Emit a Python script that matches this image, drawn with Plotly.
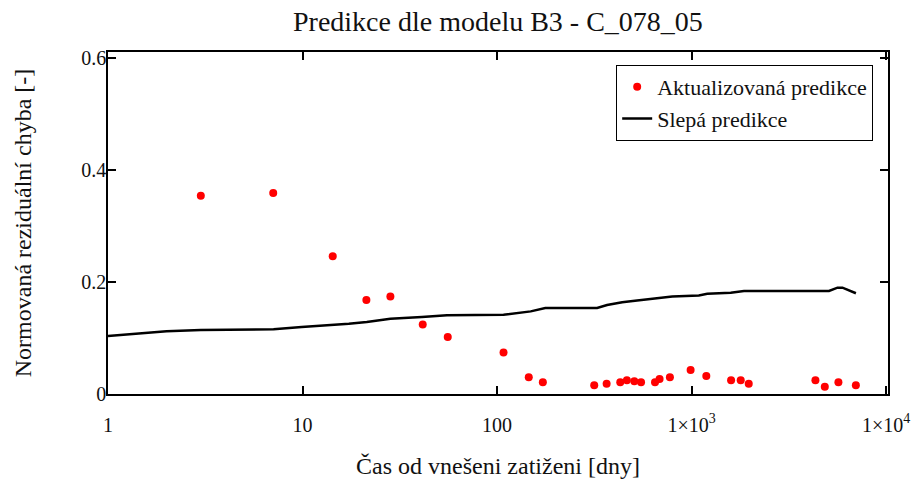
import plotly.graph_objects as go

# Measurement times [days] and updated-prediction normalized residual error
t_meas = [3.0, 7.07, 14.3, 21.3, 28.3, 41.5, 55.8, 108, 145.6, 172,
          316, 366, 430, 465, 508, 550, 649, 685, 774, 989,
          1191, 1597, 1790, 1968, 4334, 4842, 5689, 6995]
err_upd = [0.354, 0.359, 0.246, 0.168, 0.174, 0.124, 0.102, 0.074, 0.030, 0.021,
           0.0155, 0.0184, 0.021, 0.0244, 0.023, 0.021, 0.021, 0.027, 0.030, 0.043,
           0.032, 0.0244, 0.0244, 0.0184, 0.0244, 0.013, 0.021, 0.0155]

# Blind prediction curve
t_blind = [1, 1.27, 1.58, 2.0, 3.0, 7.1, 9.9, 14.2, 17.3, 21.4, 24.6, 28.3,
           41.1, 55.3, 108, 127, 149, 177, 327, 368, 440, 525, 680, 796,
           1090, 1205, 1590, 1860, 5090, 5630, 5970, 7000]
err_blind = [0.1036, 0.1065, 0.1095, 0.112, 0.1143, 0.1155, 0.1196, 0.1226, 0.1255,
             0.1286, 0.1316, 0.1345, 0.1375, 0.1405, 0.1416, 0.1446, 0.1476, 0.1536,
             0.1536, 0.159, 0.164, 0.167, 0.171, 0.174, 0.176, 0.179, 0.181, 0.184,
             0.184, 0.190, 0.190, 0.180]

x_tickvals = [1, 10, 100, 1000, 10000]
x_ticktext = ["1", "10", "100", "1×10<sup>3</sup>", "1×10<sup>4</sup>"]
y_tickvals = [0, 0.2, 0.4, 0.6]
y_ticktext = ["0", "0.2", "0.4", "0.6"]

SERIF = "Liberation Serif"
INK = "#111111"

fig = go.Figure()
fig.add_trace(go.Scatter(x=t_meas, y=err_upd, mode="markers",
                         marker=dict(color="#ff0000", size=8),
                         name="Aktualizovaná predikce"))
fig.add_trace(go.Scatter(x=t_blind, y=err_blind, mode="lines",
                         line=dict(color="black", width=2.5),
                         name="Slepá predikce"))

fig.update_layout(
    template="none",
    width=917, height=481,
    margin=dict(l=108, r=29, t=52, b=87, autoexpand=False),
    paper_bgcolor="white", plot_bgcolor="white",
    font=dict(family=SERIF, color=INK),
    title=dict(text="Predikce dle modelu B3 - C_078_05", x=0.543, xanchor="center",
               y=0.955, yanchor="middle", font=dict(size=28, family=SERIF, color=INK)),
    legend=dict(x=0.981, xanchor="right", y=0.962, yanchor="top",
                bordercolor="black", borderwidth=1, bgcolor="white",
                font=dict(size=22, family=SERIF, color=INK)),
    showlegend=True,
)
fig.update_xaxes(type="log", range=[0, 4.01], tickvals=x_tickvals, ticktext=x_ticktext,
                 ticks="inside", ticklen=8, tickwidth=1.5, tickcolor="black",
                 showline=True, linecolor="black", linewidth=1.5, mirror="ticks",
                 showgrid=False, zeroline=False, ticklabelstandoff=12, automargin=False,
                 tickfont=dict(size=20, family=SERIF, color=INK),
                 title=dict(text="Čas od vnešeni zatiženi [dny]", standoff=22,
                            font=dict(size=24, family=SERIF, color=INK)))
fig.update_yaxes(range=[0, 0.611], tickvals=y_tickvals, ticktext=y_ticktext,
                 ticks="inside", ticklen=8, tickwidth=1.5, tickcolor="black",
                 showline=True, linecolor="black", linewidth=1.5, mirror="ticks",
                 showgrid=False, zeroline=False, ticklabelstandoff=-4, automargin=False,
                 tickfont=dict(size=20, family=SERIF, color=INK),
                 title=dict(text="Normovaná reziduální chyba [-]", standoff=43,
                            font=dict(size=24, family=SERIF, color=INK)))

fig.write_html("out.html")
